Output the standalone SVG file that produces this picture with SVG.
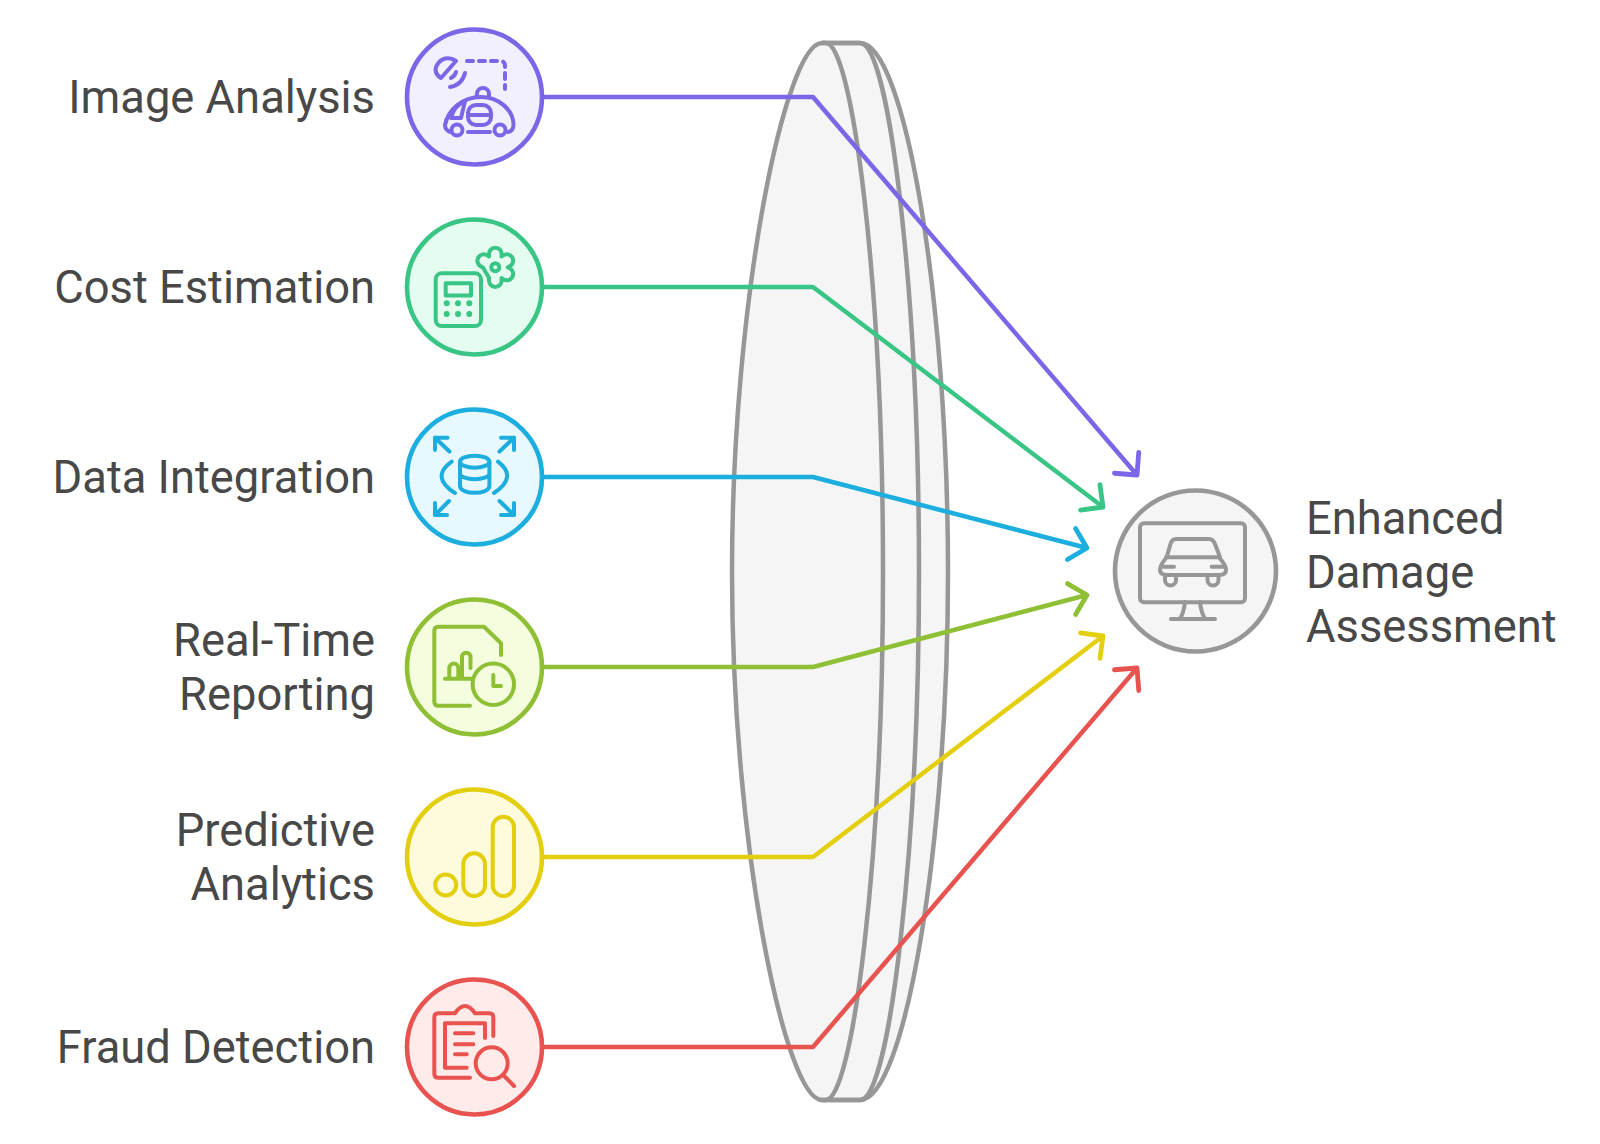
<svg xmlns="http://www.w3.org/2000/svg" width="1600" height="1144" viewBox="0 0 1600 1144">
<defs>
<style>
text{font-family:Roboto,"Liberation Sans",sans-serif;font-size:45.300px;fill:#484848}
.r{text-anchor:end}
.i{fill:none;stroke-width:4;stroke-linecap:round;stroke-linejoin:round}
.n{stroke-width:4.600}
.c{fill:none;stroke-width:4.500;stroke-linejoin:round}
.p{stroke:#7B66E8}.g{stroke:#38C585}.b{stroke:#1BAEDE}.l{stroke:#8FBF34}.y{stroke:#E3CF0E}.d{stroke:#E9534F}.k{stroke:#979797}
</style>
<marker id="mp" markerUnits="userSpaceOnUse" markerWidth="40" markerHeight="40" refX="20" refY="20" orient="auto" overflow="visible"><path d="M4 4L20 20L4 36" fill="none" stroke="#7B66E8" stroke-width="4.800" stroke-linecap="round" stroke-linejoin="round"/></marker>
<marker id="mg" markerUnits="userSpaceOnUse" markerWidth="40" markerHeight="40" refX="20" refY="20" orient="auto" overflow="visible"><path d="M4 4L20 20L4 36" fill="none" stroke="#38C585" stroke-width="4.800" stroke-linecap="round" stroke-linejoin="round"/></marker>
<marker id="mb" markerUnits="userSpaceOnUse" markerWidth="40" markerHeight="40" refX="20" refY="20" orient="auto" overflow="visible"><path d="M4 4L20 20L4 36" fill="none" stroke="#1BAEDE" stroke-width="4.800" stroke-linecap="round" stroke-linejoin="round"/></marker>
<marker id="ml" markerUnits="userSpaceOnUse" markerWidth="40" markerHeight="40" refX="20" refY="20" orient="auto" overflow="visible"><path d="M4 4L20 20L4 36" fill="none" stroke="#8FBF34" stroke-width="4.800" stroke-linecap="round" stroke-linejoin="round"/></marker>
<marker id="my" markerUnits="userSpaceOnUse" markerWidth="40" markerHeight="40" refX="20" refY="20" orient="auto" overflow="visible"><path d="M4 4L20 20L4 36" fill="none" stroke="#E3CF0E" stroke-width="4.800" stroke-linecap="round" stroke-linejoin="round"/></marker>
<marker id="md" markerUnits="userSpaceOnUse" markerWidth="40" markerHeight="40" refX="20" refY="20" orient="auto" overflow="visible"><path d="M4 4L20 20L4 36" fill="none" stroke="#E9534F" stroke-width="4.800" stroke-linecap="round" stroke-linejoin="round"/></marker>
</defs>
<g id="lens" fill="#F5F5F5" stroke="#979797" stroke-width="4.500" stroke-linejoin="round">
<path d="M860 43C905 43 948 300 948 572C948 844 905 1100 860 1100H822V43Z"/>
<path d="M860 43C890 43 919 300 919 572C919 844 890 1100 860 1100" fill="none"/>
<path d="M826 43H822C785 43 732 300 732 572C732 844 785 1100 822 1100H826"/>
<path d="M826 43C852 43 883 280 883 572C883 864 852 1100 826 1100" fill="none"/>
<path d="M822 43H860M822 1100H860" fill="none"/>
</g>
<g id="connectors">
<path class="c p" d="M542 97H813L1137 475" marker-end="url(#mp)"/>
<path class="c g" d="M542 287H813L1103 507" marker-end="url(#mg)"/>
<path class="c b" d="M542 477H813L1087 548" marker-end="url(#mb)"/>
<path class="c l" d="M542 667H813L1087 595" marker-end="url(#ml)"/>
<path class="c y" d="M542 857H813L1103 636" marker-end="url(#my)"/>
<path class="c d" d="M542 1047H813L1137 668" marker-end="url(#md)"/>
</g>
<g id="image-analysis">
<text class="r" x="375" y="113">Image Analysis</text>
<circle class="n p" cx="474.500" cy="97" r="67.500" fill="#F2F0FE"/>
<g class="i p">
<path d="M441 78L456 61C449 56 441 58 437 65C434 70 436 75 441 78Z"/>
<path d="M451 78Q455 76 456 72M450 87Q462 85 465 73"/>
<path d="M467 61H500Q505 61 505 66V89" stroke-dasharray="6 6"/>
<path d="M450 132Q445 130 445 125C448 110 462 97 481 97C499 97 513.500 110 513.500 125Q513.500 131 508 132"/>
<path d="M477 97V94A6 6 0 0 1 489 94V97"/>
<circle cx="457" cy="130" r="5.500"/><circle cx="500" cy="130" r="5.500"/>
<path d="M468 132H490"/>
<rect x="468" y="105" width="23" height="20" rx="8"/><path d="M468 115H491"/>
<path d="M451 118C453 110 458 104 465 101L461 118Z"/>
</g>
</g>
<g id="cost-estimation">
<text class="r" x="375" y="303">Cost Estimation</text>
<circle class="n g" cx="474.500" cy="287" r="67.500" fill="#E5FDF1"/>
<g class="i g">
<rect x="435.700" y="273.300" width="45.300" height="52.700" rx="6"/>
<rect x="445.700" y="283.300" width="25.300" height="12.300"/>
<circle cx="495.300" cy="267.300" r="4"/>
<path d="M489.100 256.500C487.100 244.700 503.500 244.700 501.500 256.500C510.700 248.900 518.900 263.100 507.800 267.300C518.900 271.500 510.700 285.700 501.500 278.100C503.500 289.900 487.100 289.900 489.100 278.100L482.800 267.300C471.700 263.100 479.900 248.900 489.100 256.500Z"/>
</g>
<g fill="#38C585"><circle cx="446.700" cy="303.300" r="3"/><circle cx="458" cy="303.300" r="3"/><circle cx="469.300" cy="303.300" r="3"/><circle cx="446.700" cy="314" r="3"/><circle cx="458" cy="314" r="3"/><circle cx="469.300" cy="314" r="3"/></g>
</g>
<g id="data-integration">
<text class="r" x="375" y="493">Data Integration</text>
<circle class="n b" cx="474.500" cy="477" r="67.500" fill="#E8F8FF"/>
<g class="i b">
<path d="M435 450V437.700H447.500M435 437.700L449.500 451.500"/>
<path d="M501 437.700H514V450M514 437.700L499.500 451.500"/>
<path d="M435 503V515H447M435 515L449 501"/>
<path d="M501 515H514V503M514 515L499.500 501"/>
<ellipse cx="474.700" cy="461.700" rx="14.700" ry="6"/>
<path d="M460 461.700V486C460 495 489.400 495 489.400 486V461.700M460 473.500C460 481 489.400 481 489.400 473.500"/>
<path d="M451.700 461.700Q430 477 455 493M498 461.700Q518 477 494 493"/>
</g>
</g>
<g id="real-time-reporting">
<text class="r" x="375" y="656">Real-Time</text>
<text class="r" x="375" y="710">Reporting</text>
<circle class="n l" cx="474.500" cy="667" r="67.500" fill="#F4FEDF"/>
<g class="i l">
<path d="M470 705.700H438.300Q434.300 705.700 434.300 701.700V630.700Q434.300 626.700 438.300 626.700H484L501 643.300V655"/>
<path d="M445 678.700H473M449.300 678V668A4.500 4.500 0 0 1 458.300 668V678M462 678V657A4.200 4.200 0 0 1 470.500 657V668"/>
<circle cx="493.300" cy="684.300" r="20.700"/>
<path d="M493.300 675V686H501"/>
</g>
</g>
<g id="predictive-analytics">
<text class="r" x="375" y="846">Predictive</text>
<text class="r" x="375" y="900">Analytics</text>
<circle class="n y" cx="474.500" cy="857" r="67.500" fill="#FEFADC"/>
<g class="i y">
<circle cx="445.700" cy="885" r="10.500"/>
<rect x="463.300" y="853.300" width="21.700" height="42.700" rx="10.800"/>
<rect x="492.700" y="816.700" width="21.300" height="79.300" rx="10.600"/>
</g>
</g>
<g id="fraud-detection">
<text class="r" x="375" y="1063">Fraud Detection</text>
<circle class="n d" cx="474.500" cy="1047" r="67.500" fill="#FFEBEA"/>
<g class="i d">
<path d="M470 1077.700H438.300Q434.300 1077.700 434.300 1073.700V1017.300Q434.300 1013.300 438.300 1013.300H455Q460 1006 465 1006Q470 1006 475 1013.300H489.300Q493.300 1013.300 493.300 1017.300V1036"/>
<path d="M466.700 1067.700H445V1023.300H485V1038"/>
<path d="M455 1033.300H473.300M455 1044.300H473.300M455 1054.300H466.700"/>
<circle cx="491.700" cy="1063.300" r="16"/>
<path d="M503.300 1075L514 1086"/>
</g>
</g>
<g id="enhanced-damage-assessment">
<text x="1306" y="534">Enhanced</text>
<text x="1306" y="588">Damage</text>
<text x="1306" y="642">Assessment</text>
<circle class="n k" cx="1195.500" cy="571" r="80.500" fill="#F5F5F5"/>
<g class="i k">
<rect x="1140" y="523.300" width="105" height="79" rx="4"/>
<path d="M1185 602Q1184 612 1180 619M1200 602Q1201 612 1205 619M1171 619H1215"/>
<path d="M1166.700 557L1170.500 544Q1172 539 1176 539H1209Q1213 539 1215 544L1220 557M1166 557.300H1220"/>
<path d="M1166.700 557.300Q1160 565 1160 570Q1160 575 1167 575H1219Q1226 575 1226 570Q1226 565 1219 557.300"/>
<path d="M1161.700 566.700H1174M1211.700 566.700H1225"/>
<path d="M1165 576V580A5.500 5.500 0 0 0 1176 580V576M1207.500 576V580A5.500 5.500 0 0 0 1218.500 580V576"/>
</g>
</g>
</svg>
